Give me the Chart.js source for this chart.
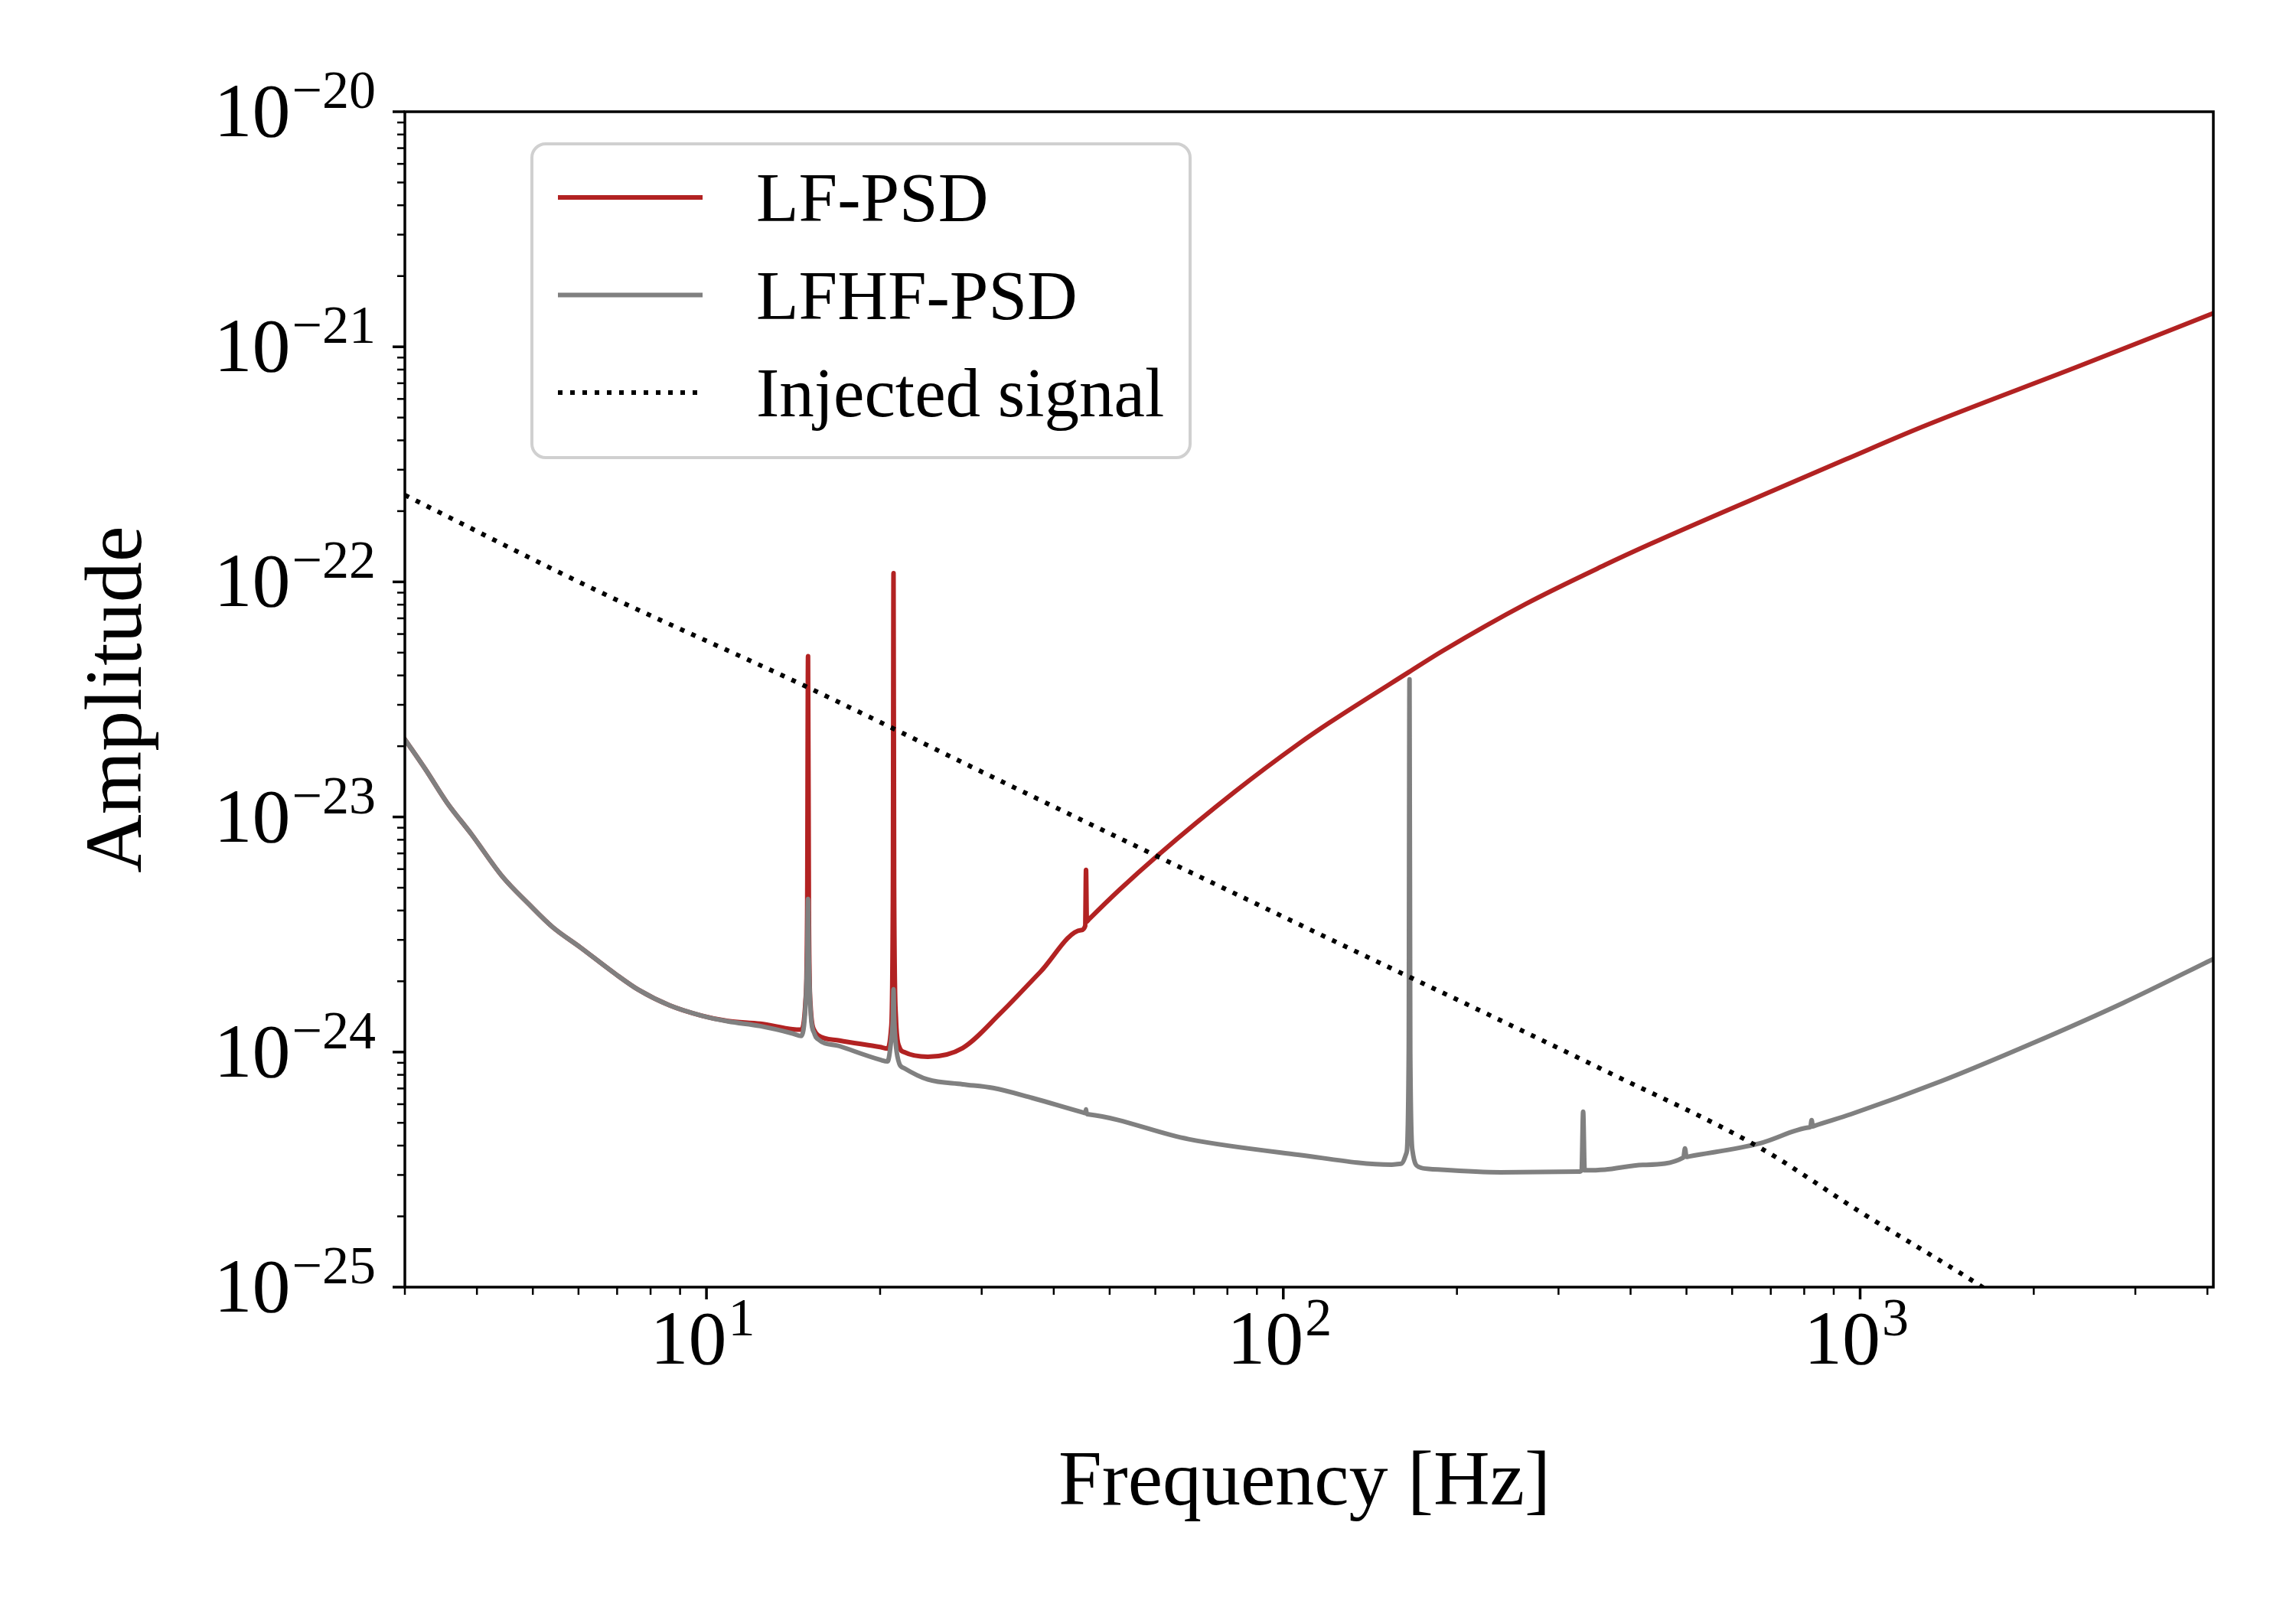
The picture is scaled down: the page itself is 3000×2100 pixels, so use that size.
<!DOCTYPE html>
<html>
<head>
<meta charset="utf-8">
<title>LF-PSD / LFHF-PSD</title>
<script src="https://cdn.jsdelivr.net/npm/chart.js@4.4.1/dist/chart.umd.min.js"></script>
<style>
  html, body { margin: 0; padding: 0; background: #fff; }
  canvas { display: block; }
</style>
</head>
<body>
<canvas id="chartPsd" width="3000" height="2100"></canvas>
<script>
// Curvas (frecuencia en Hz, amplitud)
const lfFreq = [3.0, 3.26, 3.55, 3.91, 4.43, 4.92, 5.41, 6.04, 6.95, 7.62, 8.63, 9.79,
  10.9, 12.4, 14.1, 14.6, 14.85, 14.95, 15.0, 15.05, 15.15, 15.4, 15.6, 17.0,
  20.0, 20.6, 20.9, 21.05, 21.1, 21.15, 21.3, 21.6, 22.0, 24.2, 27.8, 32.4, 37.9,
  44.6, 45.35, 45.5, 45.65, 46.0, 52.0, 60.4, 82.4, 106.7, 120, 165, 189, 263, 361, 433,
  680, 944, 1277, 2404, 4096];
const lfAmp = [2.14e-23, 1.59e-23, 1.15e-23, 8.47e-24, 5.57e-24, 4.26e-24, 3.40e-24, 2.79e-24, 2.15e-24, 1.84e-24, 1.58e-24, 1.43e-24,
  1.355e-24, 1.32e-24, 1.25e-24, 1.245e-24, 1.66e-24, 3.98e-24, 4.83e-23, 3.98e-24, 1.58e-24, 1.23e-24, 1.18e-24, 1.12e-24,
  1.05e-24, 1.035e-24, 1.26e-24, 5.01e-24, 1.09e-22, 5.01e-24, 1.41e-24, 1.05e-24, 1.0e-24, 9.55e-25, 1.04e-24, 1.47e-24, 2.19e-24,
  3.30e-24, 3.44e-24, 5.96e-24, 3.59e-24, 3.66e-24, 4.90e-24, 6.82e-24, 1.28e-23, 2.06e-23, 2.51e-23, 4.13e-23, 5.09e-23, 8.05e-23, 1.18e-22, 1.45e-22,
  2.35e-22, 3.32e-22, 4.55e-22, 8.30e-22, 1.39e-21];

const lfhfFreq = [3.0, 3.26, 3.55, 3.91, 4.43, 4.92, 5.41, 6.04, 6.95, 7.62, 8.63, 9.79,
  10.9, 12.4, 14.1, 14.6, 14.85, 14.95, 15.0, 15.05, 15.15, 15.4, 15.6, 17.0,
  20.0, 20.6, 20.9, 21.05, 21.1, 21.15, 21.3, 21.6, 22.0, 24.2, 27.8, 31.4, 36.7,
  45.0, 45.4, 45.5, 45.6, 46.0, 68.5, 106, 154, 160, 163.5, 165.0, 165.5, 166.0, 167.5, 172, 180,
  238, 325, 329, 331, 333, 361, 420, 494, 497, 500, 506, 670, 816, 820, 824, 828, 834, 964, 1383,
  1990, 2860, 4096];
const lfhfAmp = [2.14e-23, 1.59e-23, 1.15e-23, 8.47e-24, 5.57e-24, 4.26e-24, 3.40e-24, 2.79e-24, 2.15e-24, 1.84e-24, 1.58e-24, 1.43e-24,
  1.35e-24, 1.29e-24, 1.20e-24, 1.17e-24, 1.58e-24, 2.51e-24, 4.48e-24, 2.51e-24, 1.51e-24, 1.19e-24, 1.135e-24, 1.06e-24,
  9.27e-25, 9.12e-25, 1.12e-24, 1.41e-24, 1.85e-24, 1.41e-24, 1.07e-24, 8.91e-25, 8.55e-25, 7.64e-25, 7.29e-25, 7.03e-25, 6.38e-25,
  5.53e-25, 5.50e-25, 5.70e-25, 5.48e-25, 5.43e-25, 4.26e-25, 3.66e-25, 3.32e-25, 3.35e-25, 3.72e-25, 1.0e-24, 3.85e-23, 1.0e-24, 3.80e-25, 3.24e-25, 3.18e-25,
  3.08e-25, 3.10e-25, 3.14e-25, 5.57e-25, 3.14e-25, 3.16e-25, 3.31e-25, 3.56e-25, 3.89e-25, 3.58e-25, 3.60e-25, 4.09e-25, 4.78e-25, 4.80e-25, 5.13e-25, 4.83e-25, 4.86e-25, 5.44e-25, 7.52e-25,
  1.09e-24, 1.62e-24, 2.49e-24];

const sigFreq = [3.0, 6.32, 14.8, 33.0, 109, 360, 670, 1000, 1590, 2500];
const sigAmp = [2.34e-22, 9.42e-23, 3.61e-23, 1.39e-23, 3.40e-24, 8.36e-25, 3.92e-25, 2.09e-25, 1.04e-25, 5.0e-26];

const seriesNames = ['LF-PSD', 'LFHF-PSD', 'Injected signal'];

// Ejes
const xRange = [3, 4096];
const yRange = [1e-25, 1e-20];
const xMajorTicks = [10, 100, 1000];
const xTickExp = ['1', '2', '3'];
const yMajorTicks = [1e-25, 1e-24, 1e-23, 1e-22, 1e-21, 1e-20];
const yTickExp = ['\u221225', '\u221224', '\u221223', '\u221222', '\u221221', '\u221220'];

const FONT = '"Liberation Serif", "DejaVu Serif", serif';
const toPoints = (fs, as) => fs.map((f, i) => ({ x: f, y: as[i] }));

function drawPow(ctx, exp, x, y, align) {
  ctx.font = '100px ' + FONT;
  const wb = ctx.measureText('10').width;
  ctx.font = '70px ' + FONT;
  const we = ctx.measureText(exp).width;
  const left = align === 'right' ? x - wb - we : x - (wb + we) / 2;
  ctx.textAlign = 'left';
  ctx.textBaseline = 'alphabetic';
  ctx.font = '100px ' + FONT;
  ctx.fillText('10', left, y);
  ctx.font = '70px ' + FONT;
  ctx.fillText(exp, left + wb + 2, y - 37);
}

function tick(ctx, x0, y0, x1, y1, w) {
  ctx.lineWidth = w;
  ctx.beginPath();
  ctx.moveTo(x0, y0);
  ctx.lineTo(x1, y1);
  ctx.stroke();
}

// Marco, marcas, etiquetas y leyenda al estilo matplotlib
const decor = {
  id: 'decor',
  afterDatasetsDraw(chart) {
    const { ctx, chartArea: a, scales: { x, y } } = chart;
    ctx.save();
    ctx.strokeStyle = '#000';
    ctx.fillStyle = '#000';
    ctx.lineCap = 'butt';

    // marcas menores
    for (let d = 1; d <= 1000; d *= 10) {
      for (let m = 2; m <= 9; m++) {
        const v = m * d;
        if (v < xRange[0] || v > xRange[1]) continue;
        const px = x.getPixelForValue(v);
        tick(ctx, px, a.bottom, px, a.bottom + 10, 2.5);
      }
    }
    for (let k = -25; k < -20; k++) {
      for (let m = 2; m <= 9; m++) {
        const py = y.getPixelForValue(m * Math.pow(10, k));
        tick(ctx, a.left, py, a.left - 10, py, 2.5);
      }
    }
    // marcas mayores y etiquetas
    xMajorTicks.forEach((v, i) => {
      const px = x.getPixelForValue(v);
      tick(ctx, px, a.bottom, px, a.bottom + 16, 3.5);
      drawPow(ctx, xTickExp[i], px - 6, a.bottom + 100, 'center');
    });
    yMajorTicks.forEach((v, i) => {
      const py = y.getPixelForValue(v);
      tick(ctx, a.left, py, a.left - 16, py, 3.5);
      drawPow(ctx, yTickExp[i], a.left - 40, py + 32, 'right');
    });

    // marco
    ctx.lineWidth = 3.5;
    ctx.strokeRect(a.left, a.top, a.right - a.left, a.bottom - a.top);

    // títulos de ejes
    ctx.font = '102px ' + FONT;
    ctx.textAlign = 'center';
    ctx.textBaseline = 'alphabetic';
    ctx.fillText('Frequency [Hz]', (a.left + a.right) / 2 - 6, 1966);
    ctx.save();
    ctx.translate(184, (a.top + a.bottom) / 2);
    ctx.rotate(-Math.PI / 2);
    ctx.font = '106px ' + FONT;
    ctx.fillText('Amplitude', 0, 0);
    ctx.restore();

    // leyenda
    const bx = a.left + 166, by = a.top + 42, bw = 860, bh = 410, r = 18;
    ctx.beginPath();
    ctx.moveTo(bx + r, by);
    ctx.arcTo(bx + bw, by, bx + bw, by + bh, r);
    ctx.arcTo(bx + bw, by + bh, bx, by + bh, r);
    ctx.arcTo(bx, by + bh, bx, by, r);
    ctx.arcTo(bx, by, bx + bw, by, r);
    ctx.closePath();
    ctx.fillStyle = 'rgba(255,255,255,0.8)';
    ctx.fill();
    ctx.strokeStyle = '#d0d0d0';
    ctx.lineWidth = 4;
    ctx.stroke();

    chart.data.datasets.forEach((ds, i) => {
      const ry = by + 70 + i * 127.5;
      ctx.strokeStyle = ds.borderColor;
      ctx.lineWidth = ds.borderWidth;
      ctx.setLineDash(ds.borderDash || []);
      ctx.lineCap = 'butt';
      ctx.beginPath();
      ctx.moveTo(bx + 34, ry);
      ctx.lineTo(bx + 223, ry);
      ctx.stroke();
      ctx.setLineDash([]);
      ctx.fillStyle = '#000';
      ctx.font = '91px ' + FONT;
      ctx.textAlign = 'left';
      ctx.fillText(ds.label, bx + 293, ry + 31);
    });
    ctx.restore();
  }
};

const ctxPsd = document.getElementById('chartPsd').getContext('2d');
new Chart(ctxPsd, {
  type: 'line',
  data: {
    datasets: [
      {
        label: seriesNames[0],
        data: toPoints(lfFreq, lfAmp),
        borderColor: '#b22222',
        borderWidth: 6,
        borderJoinStyle: 'round',
        borderCapStyle: 'round',
        cubicInterpolationMode: 'monotone',
        order: 3
      },
      {
        label: seriesNames[1],
        data: toPoints(lfhfFreq, lfhfAmp),
        borderColor: '#808080',
        borderWidth: 6,
        borderJoinStyle: 'round',
        borderCapStyle: 'round',
        cubicInterpolationMode: 'monotone',
        order: 2
      },
      {
        label: seriesNames[2],
        data: toPoints(sigFreq, sigAmp),
        borderColor: '#000000',
        borderWidth: 6,
        borderDash: [6, 10],
        borderCapStyle: 'butt',
        cubicInterpolationMode: 'monotone',
        order: 1
      }
    ]
  },
  options: {
    responsive: false,
    devicePixelRatio: 1,
    animation: false,
    layout: { padding: { left: 529, right: 108, top: 146, bottom: 418 } },
    elements: { point: { radius: 0 }, line: { fill: false } },
    plugins: { legend: { display: false }, tooltip: { enabled: false } },
    scales: {
      x: { type: 'logarithmic', min: xRange[0], max: xRange[1], display: false },
      y: { type: 'logarithmic', min: yRange[0], max: yRange[1], display: false }
    }
  },
  plugins: [decor]
});
</script>
</body>
</html>
